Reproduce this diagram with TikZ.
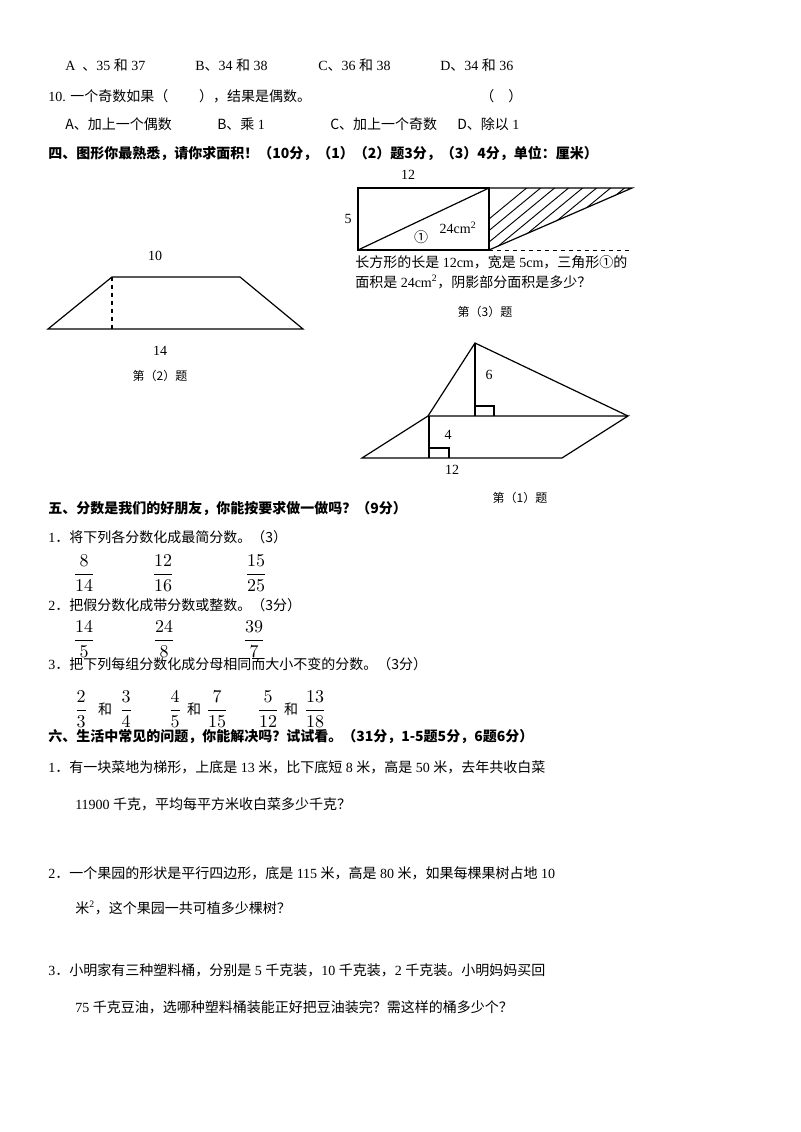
\documentclass[tikz,border=0pt]{standalone}
\usepackage{fontspec}
\usepackage{amsmath}
\setmainfont{Liberation Serif}
\newfontfamily\cjk{Noto Sans CJK SC}
\usetikzlibrary{patterns}
\newcommand{\myfr}[2]{\scalebox{1.35}{$\dfrac{#1}{#2}$}}
\begin{document}
\begin{tikzpicture}[x=0.75pt,y=-0.75pt,
  t/.style={anchor=base west,inner sep=0pt,font=\fontsize{10.5}{12}\selectfont},
  tb/.style={t,font=\fontsize{10.5}{12}\selectfont\bfseries},
  lab/.style={inner sep=0pt,font=\fontsize{10.5}{12}\selectfont},
  fr/.style={inner sep=0pt,font=\fontsize{10}{12}\selectfont},
  line/.style={draw=black,line width=0.9pt,line join=miter}]
\useasboundingbox (0,0) rectangle (800,1132);
\fill[white] (0,0) rectangle (800,1132);
% choices
\node[t] (a1) at (65,70) {A \ {\cjk 、}35 {\cjk 和} 37};
\node[t] (a2) at (195,70) {B{\cjk 、}34 {\cjk 和} 38};
\node[t] (a3) at (318,70) {C{\cjk 、}36 {\cjk 和} 38};
\node[t] (a4) at (440,70) {D{\cjk 、}34 {\cjk 和} 36};
\node[t] (q10) at (48,101) {10. {\cjk 一个奇数如果（\hspace{2.2em}），结果是偶数。}};
\node[t] (q10b) at (480,101) {{\cjk （\hspace{1em}）}};
\node[t] (b1) at (65,129) {{\cjk A、加上一个偶数}};
\node[t] (b2) at (217,129) {{\cjk B、乘} 1};
\node[t] (b3) at (330,129) {{\cjk C、加上一个奇数}};
\node[t] (b4) at (457,129) {{\cjk D、除以} 1};
\node[tb] (h4) at (48,158) {{\cjk\bfseries 四、图形你最熟悉，请你求面积！（10分，（1）（2）题3分，（3）4分，单位：厘米）}};
% figure 3
\coordinate (r1) at (358,188); \coordinate (r2) at (489,188);
\coordinate (r3) at (489,250); \coordinate (r4) at (358,250);
\coordinate (s1) at (632,188); \coordinate (s2) at (632,250);
\begin{scope}
\clip (r2) -- (s1) -- (r3) -- cycle;
\foreach \i in {0,...,16} { \draw[line width=0.7pt] (489+\i*14-40,252) -- (489+\i*14+40,186); }
\end{scope}
\draw[line] (r1) -- (r2) -- (r3) -- (r4) -- cycle;
\draw[line] (r4) -- (r2);
\draw[line] (r2) -- (s1) -- (r3);
\draw[dashed,line width=0.7pt] (r3) -- (s2);
\node[lab] (l12a) at (408,175) {12};
\node[lab] (l5a) at (348,219) {5};
\node[lab] (c1) at (421,237) {{\cjk ①}};
\node[lab] (l24) at (458,228) {24cm\textsuperscript{2}};
\node[t] (d1) at (355,267) {{\cjk 长方形的长是} 12cm{\cjk ，宽是} 5cm{\cjk ，三角形①的}};
\node[t] (d2) at (355,287) {{\cjk 面积是} 24cm\textsuperscript{2}{\cjk ，阴影部分面积是多少？}};
\node[lab,font=\fontsize{9}{10}\selectfont] (f3) at (485,312) {{\cjk 第（3）题}};
% figure 2
\coordinate (t1) at (48,329); \coordinate (t2) at (303,329);
\coordinate (t3) at (240,277); \coordinate (t4) at (112,277);
\coordinate (t5) at (112,329);
\draw[line] (t1) -- (t2) -- (t3) -- (t4) -- cycle;
\draw[dashed,line width=0.8pt] (t4) -- (t5);
\node[lab] (l10) at (155,256) {10};
\node[lab] (l14) at (160,351) {14};
\node[lab,font=\fontsize{9}{10}\selectfont] (f2) at (160,376) {{\cjk 第（2）题}};
% figure 1
\coordinate (p1) at (362,458); \coordinate (p2) at (562,458);
\coordinate (p3) at (628,416); \coordinate (p4) at (428,416);
\coordinate (ap) at (475,343); \coordinate (af) at (475,416);
\coordinate (hf) at (429,458);
\draw[line] (p1) -- (p2) -- (p3) -- (p4) -- cycle;
\draw[line] (p4) -- (ap) -- (p3);
\draw[line] (ap) -- (af);
\draw[line] (475,406) -- (494,406) -- (494,416);
\draw[line] (429,416) -- (hf);
\draw[line] (429,448) -- (449,448) -- (449,458);
\node[lab] (l6) at (489,375) {6};
\node[lab] (l4) at (448,435) {4};
\node[lab] (l12) at (452,470) {12};
\node[lab,font=\fontsize{9}{10}\selectfont] (f1) at (520,498) {{\cjk 第（1）题}};
% section 5
\node[tb] (h5) at (48,513) {{\cjk\bfseries 五、分数是我们的好朋友，你能按要求做一做吗？（9分）}};
\node[t] (s51) at (48,542) {1{\cjk ．将下列各分数化成最简分数。（3）}};
\node[fr] (fa) at (84,573) {\myfr{8}{14}};
\node[fr] (fb) at (163,573) {\myfr{12}{16}};
\node[fr] (fc) at (256,573) {\myfr{15}{25}};
\node[t] (s52) at (48,610) {2{\cjk ．把假分数化成带分数或整数。（3分）}};
\node[fr] (fd) at (84,639) {\myfr{14}{5}};
\node[fr] (fe) at (164,639) {\myfr{24}{8}};
\node[fr] (ff) at (254,639) {\myfr{39}{7}};
\node[t] (s53) at (48,669) {3{\cjk ．把下列每组分数化成分母相同而大小不变的分数。（3分）}};
\node[fr] (g1) at (81,709) {\myfr{2}{3}};
\node[lab] (h1) at (105,709) {{\cjk 和}};
\node[fr] (g2) at (126,709) {\myfr{3}{4}};
\node[fr] (g3) at (175,709) {\myfr{4}{5}};
\node[lab] (h2) at (194,709) {{\cjk 和}};
\node[fr] (g4) at (217,709) {\myfr{7}{15}};
\node[fr] (g5) at (268,709) {\myfr{5}{12}};
\node[lab] (h3) at (291,709) {{\cjk 和}};
\node[fr] (g6) at (315,709) {\myfr{13}{18}};
% section 6
\node[tb] (h6) at (48,741) {{\cjk\bfseries 六、生活中常见的问题，你能解决吗？试试看。（31分，1-5题5分，6题6分）}};
\node[t] (p11) at (48,772) {1{\cjk ．有一块菜地为梯形，上底是} 13 {\cjk 米，比下底短} 8 {\cjk 米，高是} 50 {\cjk 米，去年共收白菜}};
\node[t] (p12) at (75,809) {11900 {\cjk 千克，平均每平方米收白菜多少千克？}};
\node[t] (p21) at (48,878) {2{\cjk ．一个果园的形状是平行四边形，底是} 115 {\cjk 米，高是} 80 {\cjk 米，如果每棵果树占地} 10};
\node[t] (p22) at (75,913) {{\cjk 米}\textsuperscript{2}{\cjk ，这个果园一共可植多少棵树？}};
\node[t] (p31) at (48,975) {3{\cjk ．小明家有三种塑料桶，分别是} 5 {\cjk 千克装，}10 {\cjk 千克装，}2 {\cjk 千克装。小明妈妈买回}};
\node[t] (p32) at (75,1012) {75 {\cjk 千克豆油，选哪种塑料桶装能正好把豆油装完？需这样的桶多少个？}};
\end{tikzpicture}
\end{document}
